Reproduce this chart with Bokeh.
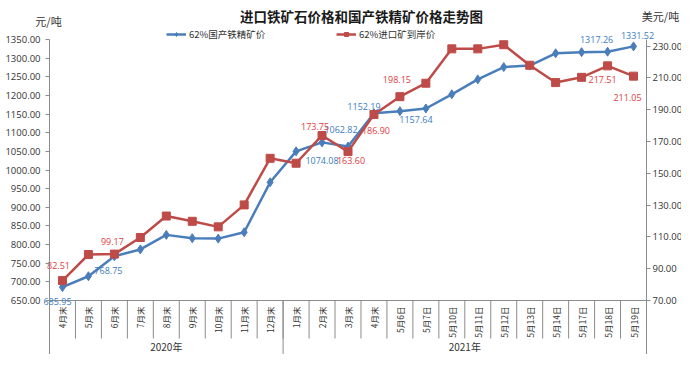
import math
from bokeh.plotting import figure
from bokeh.models import (Range1d, LinearAxis, FixedTicker, NumeralTickFormatter,
                          Legend, LegendItem)
from bokeh.core.properties import value
from bokeh.embed import file_html
from bokeh.resources import INLINE

# ---------------- data ----------------
categories = ["4月末", "5月末", "6月末", "7月末", "8月末", "9月末", "10月末", "11月末", "12月末",
              "1月末", "2月末", "3月末", "4月末", "5月6日", "5月7日", "5月10日", "5月11日",
              "5月12日", "5月13日", "5月14日", "5月17日", "5月18日", "5月19日"]
years = ["2020年", "2021年"]
year_counts = [9, 14]
domestic = [685.95, 715.0, 768.75, 787.0, 826.0, 817.0, 816.0, 833.0, 967.0,
            1050.0, 1074.08, 1062.82, 1152.19, 1157.64, 1165.0, 1203.0, 1243.0,
            1276.0, 1280.0, 1313.0, 1316.0, 1317.26, 1331.52]
imported = [82.51, 98.9, 99.17, 109.6, 123.1, 119.8, 116.3, 130.1, 159.4,
            156.3, 173.75, 163.60, 186.90, 198.15, 206.6, 228.2, 228.2,
            230.8, 217.9, 207.0, 210.3, 217.51, 211.05]
left_ticks = [650, 700, 750, 800, 850, 900, 950, 1000, 1050, 1100, 1150, 1200, 1250, 1300, 1350]
right_ticks = [70, 90, 110, 130, 150, 170, 190, 210, 230]
labeled_idx = [0, 2, 10, 11, 12, 13, 21, 22]
domestic_name = "62%国产铁精矿价"
imported_name = "62%进口矿到岸价"
title_text = "进口铁矿石价格和国产铁精矿价格走势图"
left_unit = "元/吨"
right_unit = "美元/吨"

# ---------------- styles / layout (pixels) ----------------
W, H = 681, 354
X0_PX, X1_PX = 49, 646          # canvas x of category start / end
Y_TOP_PX, Y_AX_PX = 39, 300     # canvas y of left max / category axis
R_TOP_TICK_PX = 45.5            # canvas y of the top right tick
BLUE = "#4A7EBB"
RED = "#BE4B48"
BLUE_TXT = "#3B7CC2"
RED_TXT = "#E23B3E"
AXIS_C = "#8C8C8C"
TXT_C = "#333333"
CJK = "Noto Sans CJK SC"
NUM = "Open Sans"

n = len(categories)
cat_px = (X1_PX - X0_PX) / n
x_lo = -X0_PX / cat_px
x_hi = n + (W - X1_PX) / cat_px

l_min, l_max = left_ticks[0], left_ticks[-1]
upx_l = (l_max - l_min) / (Y_AX_PX - Y_TOP_PX)
l_hi = l_max + Y_TOP_PX * upx_l
l_lo = l_min - (H - Y_AX_PX) * upx_l

r_min, r_max = right_ticks[0], right_ticks[-1]
upx_r = (r_max - r_min) / (Y_AX_PX - R_TOP_TICK_PX)
r_hi = r_max + R_TOP_TICK_PX * upx_r
r_lo = r_min - (H - Y_AX_PX) * upx_r
r_frame_top = r_max + (R_TOP_TICK_PX - Y_TOP_PX) * upx_r

def px_x(px):
    return x_lo + px / cat_px

def px_y(py):
    return l_hi - py * upx_l

xs = [i + 0.5 for i in range(n)]

p = figure(width=W, height=H, x_range=Range1d(x_lo, x_hi), y_range=Range1d(l_lo, l_hi),
           output_backend="svg", toolbar_location=None, x_axis_type=None, y_axis_type=None,
           title=None, min_border_left=0, min_border_right=0, min_border_top=0,
           min_border_bottom=0)
p.extra_y_ranges = {"right": Range1d(r_lo, r_hi)}
p.grid.visible = False
p.outline_line_color = None
p.background_fill_color = "white"
p.border_fill_color = "white"

def style_axis(ax, ticks, standoff):
    ax.ticker = FixedTicker(ticks=ticks)
    ax.formatter = NumeralTickFormatter(format="0.00")
    ax.axis_line_color = AXIS_C
    ax.major_tick_line_color = AXIS_C
    ax.major_tick_out = 4
    ax.major_tick_in = 0
    ax.minor_tick_line_color = None
    ax.major_label_text_font = NUM
    ax.major_label_text_font_size = "9.5px"
    ax.major_label_text_color = TXT_C
    ax.major_label_standoff = standoff

laxis = LinearAxis(fixed_location=0, bounds=(l_lo, l_max))
style_axis(laxis, left_ticks, 5)
p.add_layout(laxis, "left")
raxis = LinearAxis(y_range_name="right", fixed_location=n, bounds=(r_lo, r_frame_top))
style_axis(raxis, right_ticks, 2)
p.add_layout(raxis, "right")

# category axis line and separators
p.segment(x0=[0], y0=[l_min], x1=[n], y1=[l_min], line_color=AXIS_C, line_width=1)
bounds = list(range(n + 1))
small_y1 = l_min - 38 * upx_l
p.segment(x0=bounds, y0=[l_min] * len(bounds), x1=bounds, y1=[small_y1] * len(bounds),
          line_color=AXIS_C, line_width=1)
group_bounds = [0]
for c in year_counts:
    group_bounds.append(group_bounds[-1] + c)
p.segment(x0=group_bounds, y0=[l_min] * len(group_bounds), x1=group_bounds,
          y1=[l_lo] * len(group_bounds), line_color=AXIS_C, line_width=1)

# category labels (vertical)
p.text(x=xs, y=[l_min - 6 * upx_l] * n, text=categories, angle=math.pi / 2,
       text_align="right", text_baseline="middle", text_font=value(CJK),
       text_font_size="8.5px", text_color=TXT_C)
gx = [(group_bounds[i] + group_bounds[i + 1]) / 2 for i in range(len(years))]
p.text(x=gx, y=[l_min - 46 * upx_l] * len(years), text=years, text_align="center",
       text_baseline="middle", text_font=value(CJK), text_font_size="10px", text_color=TXT_C)

# series
bl = p.line(xs, domestic, line_color=BLUE, line_width=2.5)
bs = p.scatter(xs, domestic, marker="diamond", size=9, fill_color=BLUE, line_color=BLUE)
rl = p.line(xs, imported, line_color=RED, line_width=2.5, y_range_name="right")
rs = p.scatter(xs, imported, marker="square", size=8, fill_color=RED, line_color=RED,
               y_range_name="right")

# data labels
blue_dx = [-5, -6, 0, -7, -10, 16, -11, 4]
blue_dy = [14, 14, 18, -17, -7, 8, -12, -11]
red_dx = [-4, -2, -7, 3, 2, -3, -5, -6]
red_dy = [-15, -13, -9, 9, 16, -17, 14, 21]
p.text(x=[xs[i] for i in labeled_idx], y=[domestic[i] for i in labeled_idx],
       text=["%.2f" % domestic[i] for i in labeled_idx], x_offset=blue_dx, y_offset=blue_dy,
       text_align="center", text_baseline="middle", text_font=value(NUM),
       text_font_size="9px", text_color=BLUE_TXT)
p.text(x=[xs[i] for i in labeled_idx], y=[imported[i] for i in labeled_idx],
       text=["%.2f" % imported[i] for i in labeled_idx], x_offset=red_dx, y_offset=red_dy,
       text_align="center", text_baseline="middle", text_font=value(NUM),
       text_font_size="9px", text_color=RED_TXT, y_range_name="right")

# legends
def make_legend(label, rends, x):
    return Legend(items=[LegendItem(label=label, renderers=rends)], location=(x, H - 41),
                  orientation="horizontal", padding=0, margin=0, border_line_color=None,
                  background_fill_alpha=0, glyph_width=20, glyph_height=10, label_standoff=3,
                  label_text_font=CJK, label_text_font_size="9.5px", label_text_color=TXT_C,
                  label_height=10)
p.add_layout(make_legend(domestic_name, [bl, bs], 166))
p.add_layout(make_legend(imported_name, [rl, rs], 336))

# title and units
p.text(x=[px_x(361)], y=[px_y(15)], text=[title_text], text_align="center",
       text_baseline="middle", text_font=value(CJK), text_font_size="13.5px",
       text_font_style="bold", text_color="#1A1A1A")
p.text(x=[px_x(48), px_x(660)], y=[px_y(20), px_y(15)], text=[left_unit, right_unit],
       text_align="center", text_baseline="middle", text_font=value(CJK),
       text_font_size="11px", text_color=TXT_C)

open("out.html", "w").write(file_html(p, INLINE))
